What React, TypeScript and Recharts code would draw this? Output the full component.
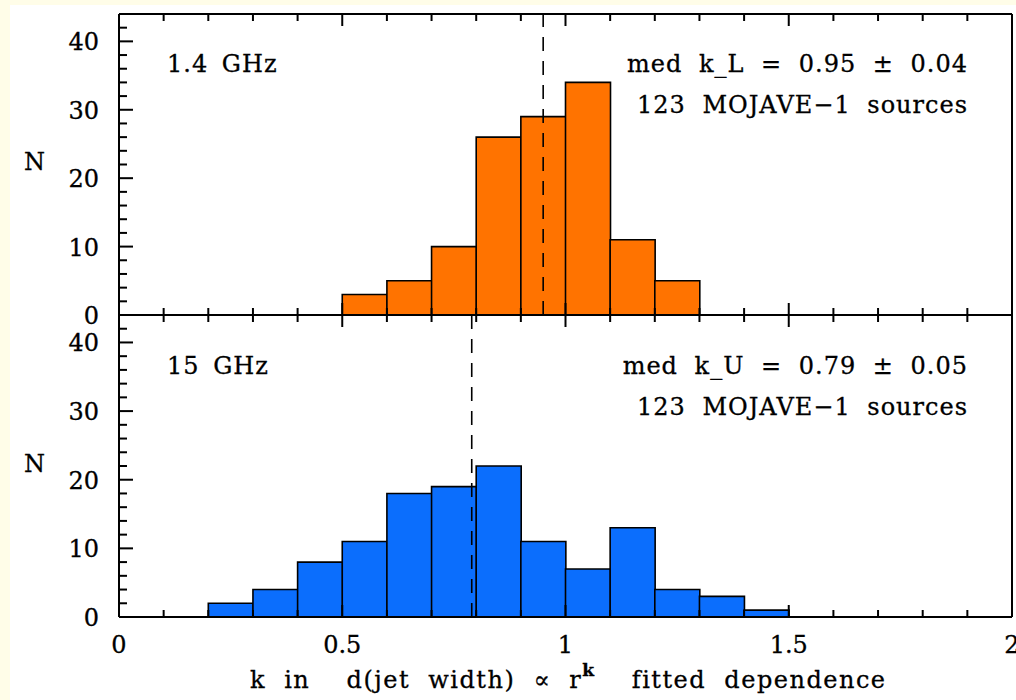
import React from 'react';
import { BarChart, Bar, XAxis, YAxis, ReferenceLine } from 'recharts';

// bin centres (bin width 0.1) and counts
const lBinCenters = [0.55, 0.65, 0.75, 0.85, 0.95, 1.05, 1.15, 1.25];
const lCounts = [3, 5, 10, 26, 29, 34, 11, 5];

const uBinCenters = [0.25, 0.35, 0.45, 0.55, 0.65, 0.75, 0.85, 0.95, 1.05, 1.15, 1.25, 1.35, 1.45];
const uCounts = [2, 4, 8, 11, 18, 19, 22, 11, 7, 13, 4, 3, 1];

const medianL = 0.95;
const medianU = 0.79;

const xTicks = [0, 0.1, 0.2, 0.3, 0.4, 0.5, 0.6, 0.7, 0.8, 0.9, 1, 1.1, 1.2, 1.3, 1.4, 1.5, 1.6, 1.7, 1.8, 1.9, 2];
const xTickLabels = ['0', '0.5', '1', '1.5', '2'];
const yTicks = [0, 2, 4, 6, 8, 10, 12, 14, 16, 18, 20, 22, 24, 26, 28, 30, 32, 34, 36, 38, 40, 42, 44];
const yTickLabels = ['0', '10', '20', '30', '40'];

const lData = lBinCenters.map((k, i) => ({ k, n: lCounts[i] }));
const uData = uBinCenters.map((k, i) => ({ k, n: uCounts[i] }));

const FONT = '"DejaVu Serif", serif';
const ORANGE = '#ff7300';
const BLUE = '#0b6efd';
const INK = '#000';

const isMajorX = (v: number) => Math.abs(v * 2 - Math.round(v * 2)) < 1e-6;
const isMajorY = (v: number) => v % 10 === 0;

const fmtX = (v: number) => {
  const s = String(Math.round(v * 10) / 10);
  return xTickLabels.includes(s) ? s : '';
};

// inward tick marks drawn from the axis position given by recharts
const BottomTick = (showLabel: boolean) => (props: any) => {
  const { x, y, payload } = props;
  const s = fmtX(payload.value);
  const len = isMajorX(payload.value) ? 12 : 7;
  return (
    <g>
      <path d={`M${x},${y}v${-len}`} stroke={INK} strokeWidth={2} fill="none" />
      {showLabel && s && (
        <text x={x} y={y + 36} textAnchor="middle" fontFamily={FONT} fontSize={24} fill={INK} stroke={INK} strokeWidth={0.3}>
          {s}
        </text>
      )}
    </g>
  );
};

const TopTick = (props: any) => {
  const { x, y, payload } = props;
  const len = isMajorX(payload.value) ? 12 : 7;
  return <path d={`M${x},${y}v${len}`} stroke={INK} strokeWidth={2} fill="none" />;
};

const LeftTick = (props: any) => {
  const { x, y, payload } = props;
  const label = String(payload.value);
  const len = isMajorY(payload.value) ? 14 : 8;
  return (
    <g>
      <path d={`M${x},${y}h${len}`} stroke={INK} strokeWidth={2} fill="none" />
      {yTickLabels.includes(label) && (
        <text x={x - 20} y={y + 9} textAnchor="end" fontFamily={FONT} fontSize={24} fill={INK} stroke={INK} strokeWidth={0.3}>
          {label}
        </text>
      )}
    </g>
  );
};

const RightTick = (props: any) => {
  const { x, y, payload } = props;
  const len = isMajorY(payload.value) ? 14 : 8;
  return <path d={`M${x},${y}h${-len}`} stroke={INK} strokeWidth={2} fill="none" />;
};

const axisLine = { stroke: INK, strokeWidth: 2 };

function Panel(props: { data: any[]; color: string; median: number; margin: any; height: number; showX: boolean }) {
  const { data, color, median, margin, height, showX } = props;
  return (
    <BarChart width={1016} height={height} data={data} margin={margin} barCategoryGap={0} barGap={0}>
      <XAxis xAxisId="b" dataKey="k" type="number" domain={[0, 2]} ticks={xTicks} interval={0}
        height={1} tickSize={0} tickMargin={0} tickLine={false} axisLine={axisLine} tick={BottomTick(showX)} />
      <XAxis xAxisId="t" orientation="top" dataKey="k" type="number" domain={[0, 2]} ticks={xTicks} interval={0}
        height={1} tickSize={0} tickMargin={0} tickLine={false} axisLine={axisLine} tick={TopTick} />
      <YAxis yAxisId="l" type="number" domain={[0, 44]} ticks={yTicks} interval={0}
        width={1} tickSize={0} tickMargin={0} tickLine={false} axisLine={axisLine} tick={LeftTick} />
      <YAxis yAxisId="r" orientation="right" type="number" domain={[0, 44]} ticks={yTicks} interval={0}
        width={1} tickSize={0} tickMargin={0} tickLine={false} axisLine={axisLine} tick={RightTick} />
      <Bar xAxisId="b" yAxisId="l" dataKey="n" fill={color} stroke={INK} strokeWidth={1.6} isAnimationActive={false} />
      <ReferenceLine xAxisId="b" yAxisId="l" x={median} stroke={INK} strokeWidth={1.6} strokeDasharray="14 10" />
    </BarChart>
  );
}

const textStyle: React.CSSProperties = {
  position: 'absolute',
  fontFamily: FONT,
  fontSize: 24,
  color: INK,
  whiteSpace: 'nowrap',
  lineHeight: 1,
  letterSpacing: 1,
  wordSpacing: 8,
  WebkitTextStroke: '0.3px #000',
};

export default function App() {
  return (
    <div style={{ position: 'absolute', left: 0, top: 0, width: 1016, height: 700, background: '#fffde8', overflow: 'hidden' }}>
      <div style={{ position: 'absolute', left: 10, top: 5, width: 1006, height: 695, background: '#fff' }} />
      <div style={{ position: 'absolute', left: 0, top: 0 }}>
        <Panel data={lData} color={ORANGE} median={medianL} height={330} margin={{ top: 13, left: 118, right: 3, bottom: 14 }} showX={false} />
      </div>
      <div style={{ position: 'absolute', left: 0, top: 300 }}>
        <Panel data={uData} color={BLUE} median={medianU} height={400} margin={{ top: 14, left: 118, right: 3, bottom: 82 }} showX={true} />
      </div>

      <div style={{ ...textStyle, left: 167, top: 52, wordSpacing: 5 }}>1.4 GHz</div>
      <div style={{ ...textStyle, right: 48, top: 52 }}>med k_L = 0.95 ± 0.04</div>
      <div style={{ ...textStyle, right: 48, top: 93 }}>123 MOJAVE−1 sources</div>
      <div style={{ ...textStyle, left: 24, top: 150 }}>N</div>

      <div style={{ ...textStyle, left: 167, top: 354, wordSpacing: 5 }}>15 GHz</div>
      <div style={{ ...textStyle, right: 48, top: 354 }}>med k_U = 0.79 ± 0.05</div>
      <div style={{ ...textStyle, right: 48, top: 395 }}>123 MOJAVE−1 sources</div>
      <div style={{ ...textStyle, left: 24, top: 452 }}>N</div>

      <div style={{ ...textStyle, left: 250, top: 668, letterSpacing: 1.5, wordSpacing: 9 }}>
        k in&nbsp; d(jet width) ∝ r<sup style={{ fontSize: 17, fontWeight: 'bold', verticalAlign: 'top', position: 'relative', top: -6 }}>k</sup>&nbsp; fitted dependence
      </div>
    </div>
  );
}
